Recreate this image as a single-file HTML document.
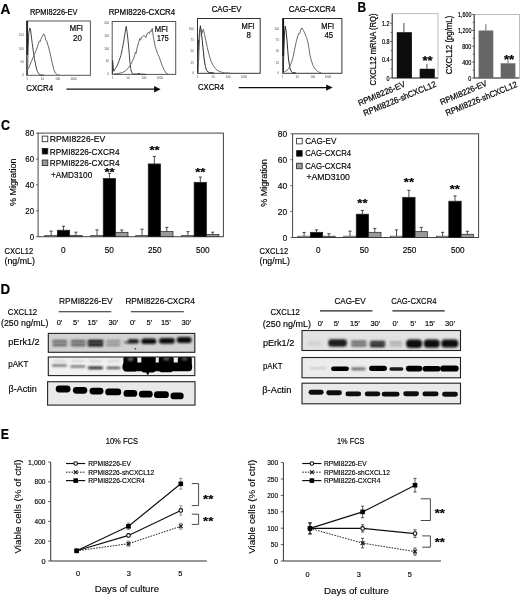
<!DOCTYPE html>
<html lang="en"><head><meta charset="utf-8"><title>Figure</title>
<style>
html,body{margin:0;padding:0;background:#fff;}
body{width:520px;height:598px;overflow:hidden;}
svg{display:block;font-family:"Liberation Sans",sans-serif;}
svg text{stroke:#000;stroke-width:0.22px;}
</style></head><body>
<svg width="520" height="598" viewBox="0 0 520 598">
<rect width="520" height="598" fill="#fff"/>
<filter id="soft" x="0" y="0" width="100%" height="100%" filterUnits="userSpaceOnUse"><feGaussianBlur stdDeviation="0.32"/></filter>
<g filter="url(#soft)">
<g id="panelA">
<text x="0.4" y="14.31" font-size="14.63" font-weight="bold" textLength="9.8" lengthAdjust="spacingAndGlyphs" fill="#000">A</text>
<text x="30" y="14.75" font-size="9.42" textLength="47.5" lengthAdjust="spacingAndGlyphs">RPMI8226-EV</text>
<text x="108.7" y="14.95" font-size="9.42" textLength="66.5" lengthAdjust="spacingAndGlyphs">RPMI8226-CXCR4</text>
<text x="211.7" y="12.45" font-size="9.42" textLength="29.8" lengthAdjust="spacingAndGlyphs">CAG-EV</text>
<text x="288.8" y="12.05" font-size="9.42" textLength="46.6" lengthAdjust="spacingAndGlyphs">CAG-CXCR4</text>
<rect x="26.50" y="21.00" width="63.90" height="54.30" fill="none" stroke="#555" stroke-width="1"/>
<rect x="112.20" y="21.50" width="63.50" height="52.90" fill="none" stroke="#555" stroke-width="1"/>
<rect x="197.50" y="18.50" width="62.70" height="54.80" fill="none" stroke="#333" stroke-width="1"/>
<rect x="282.70" y="18.50" width="59.20" height="54.80" fill="none" stroke="#333" stroke-width="1"/>
<text x="18.96" y="35.5" font-size="2.9" textLength="4.84" lengthAdjust="spacingAndGlyphs" fill="#444" style="stroke:none">150</text>
<text x="18.96" y="49.5" font-size="2.9" textLength="4.84" lengthAdjust="spacingAndGlyphs" fill="#444" style="stroke:none">100</text>
<text x="20.57" y="62.9" font-size="2.9" textLength="3.23" lengthAdjust="spacingAndGlyphs" fill="#444" style="stroke:none">50</text>
<text x="22.19" y="76.3" font-size="2.9" textLength="1.61" lengthAdjust="spacingAndGlyphs" fill="#444" style="stroke:none">0</text>
<text x="26.39" y="79.8" font-size="2.9" textLength="1.61" lengthAdjust="spacingAndGlyphs" fill="#444" style="stroke:none">1</text>
<text x="40.78" y="79.8" font-size="2.9" textLength="3.23" lengthAdjust="spacingAndGlyphs" fill="#444" style="stroke:none">10</text>
<text x="55.38" y="79.8" font-size="2.9" textLength="4.84" lengthAdjust="spacingAndGlyphs" fill="#444" style="stroke:none">100</text>
<text x="70.18" y="79.8" font-size="2.9" textLength="6.45" lengthAdjust="spacingAndGlyphs" fill="#444" style="stroke:none">1000</text>
<text x="104.16" y="23.9" font-size="2.9" textLength="4.84" lengthAdjust="spacingAndGlyphs" fill="#444" style="stroke:none">200</text>
<text x="104.16" y="36.9" font-size="2.9" textLength="4.84" lengthAdjust="spacingAndGlyphs" fill="#444" style="stroke:none">150</text>
<text x="104.16" y="49.9" font-size="2.9" textLength="4.84" lengthAdjust="spacingAndGlyphs" fill="#444" style="stroke:none">100</text>
<text x="105.77" y="62.4" font-size="2.9" textLength="3.23" lengthAdjust="spacingAndGlyphs" fill="#444" style="stroke:none">50</text>
<text x="107.39" y="75.4" font-size="2.9" textLength="1.61" lengthAdjust="spacingAndGlyphs" fill="#444" style="stroke:none">0</text>
<text x="111.69" y="79.2" font-size="2.9" textLength="1.61" lengthAdjust="spacingAndGlyphs" fill="#444" style="stroke:none">1</text>
<text x="126.39" y="79.2" font-size="2.9" textLength="3.23" lengthAdjust="spacingAndGlyphs" fill="#444" style="stroke:none">10</text>
<text x="141.58" y="79.2" font-size="2.9" textLength="4.84" lengthAdjust="spacingAndGlyphs" fill="#444" style="stroke:none">100</text>
<text x="156.58" y="79.2" font-size="2.9" textLength="6.45" lengthAdjust="spacingAndGlyphs" fill="#444" style="stroke:none">1000</text>
<text x="188.96" y="29.6" font-size="2.9" textLength="4.84" lengthAdjust="spacingAndGlyphs" fill="#444" style="stroke:none">100</text>
<text x="190.57" y="40.7" font-size="2.9" textLength="3.23" lengthAdjust="spacingAndGlyphs" fill="#444" style="stroke:none">75</text>
<text x="190.57" y="52.2" font-size="2.9" textLength="3.23" lengthAdjust="spacingAndGlyphs" fill="#444" style="stroke:none">50</text>
<text x="190.57" y="63.5" font-size="2.9" textLength="3.23" lengthAdjust="spacingAndGlyphs" fill="#444" style="stroke:none">25</text>
<text x="192.19" y="74.3" font-size="2.9" textLength="1.61" lengthAdjust="spacingAndGlyphs" fill="#444" style="stroke:none">0</text>
<text x="196.69" y="77.8" font-size="2.9" textLength="1.61" lengthAdjust="spacingAndGlyphs" fill="#444" style="stroke:none">1</text>
<text x="211.38" y="77.8" font-size="2.9" textLength="3.23" lengthAdjust="spacingAndGlyphs" fill="#444" style="stroke:none">10</text>
<text x="225.78" y="77.8" font-size="2.9" textLength="4.84" lengthAdjust="spacingAndGlyphs" fill="#444" style="stroke:none">100</text>
<text x="240.78" y="77.8" font-size="2.9" textLength="6.45" lengthAdjust="spacingAndGlyphs" fill="#444" style="stroke:none">1000</text>
<text x="274.16" y="30.0" font-size="2.9" textLength="4.84" lengthAdjust="spacingAndGlyphs" fill="#444" style="stroke:none">100</text>
<text x="275.77" y="41.1" font-size="2.9" textLength="3.23" lengthAdjust="spacingAndGlyphs" fill="#444" style="stroke:none">75</text>
<text x="275.77" y="52.2" font-size="2.9" textLength="3.23" lengthAdjust="spacingAndGlyphs" fill="#444" style="stroke:none">50</text>
<text x="275.77" y="63.5" font-size="2.9" textLength="3.23" lengthAdjust="spacingAndGlyphs" fill="#444" style="stroke:none">25</text>
<text x="277.39" y="74.3" font-size="2.9" textLength="1.61" lengthAdjust="spacingAndGlyphs" fill="#444" style="stroke:none">0</text>
<text x="281.89" y="77.7" font-size="2.9" textLength="1.61" lengthAdjust="spacingAndGlyphs" fill="#444" style="stroke:none">1</text>
<text x="295.78" y="77.7" font-size="2.9" textLength="3.23" lengthAdjust="spacingAndGlyphs" fill="#444" style="stroke:none">10</text>
<text x="310.28" y="77.7" font-size="2.9" textLength="4.84" lengthAdjust="spacingAndGlyphs" fill="#444" style="stroke:none">100</text>
<text x="324.77" y="77.7" font-size="2.9" textLength="6.45" lengthAdjust="spacingAndGlyphs" fill="#444" style="stroke:none">1000</text>
<line x1="27.3" y1="21" x2="27.3" y2="55" stroke="#222" stroke-width="1.5"/>
<polyline points="27.5,75.0 28.0,50.0 28.8,33.0 29.8,28.0 30.6,30.0 31.3,36.0 32.3,43.8 33.3,51.0 34.4,58.3 35.8,66.0 37.3,71.3 38.8,73.8 40.2,74.9 44.0,75.2" fill="none" stroke="#333" stroke-width="0.9" stroke-linejoin="round"/>
<polyline points="27.2,70.5 29.5,66.0 31.5,61.2 33.7,56.0 35.9,51.0 37.7,46.0 39.3,41.0 40.3,41.6 41.5,37.5 43.8,33.8 45.0,36.5 45.7,40.0 46.7,41.0 48.5,47.0 50.3,54.0 52.0,62.0 53.9,69.8 55.5,73.3 57.5,74.9 60.0,75.2" fill="none" stroke="#6a6a6a" stroke-width="1" stroke-linejoin="round"/>
<polyline points="112.5,74.0 112.6,60.4 113.1,66.0 113.7,71.3 115.5,68.5 117.3,65.5 119.2,60.5 120.9,55.4 122.4,48.5 123.8,41.0 125.0,33.0 126.2,26.3 127.2,33.0 128.1,41.0 129.0,51.0 129.8,61.2 130.7,68.5 131.7,72.7 133.8,74.2 137.0,74.0 139.0,73.4 141.0,74.2 146.0,74.3" fill="none" stroke="#333" stroke-width="0.9" stroke-linejoin="round"/>
<polyline points="113.7,74.0 118.0,73.5 122.3,72.7 125.5,70.8 128.1,68.4 130.3,65.2 132.4,61.2 134.2,57.0 135.4,52.0 136.0,53.5 137.3,47.0 138.9,41.7 139.8,38.5 140.5,40.2 141.5,37.0 142.6,36.8 144.0,35.2 145.0,36.8 146.1,37.4 147.0,34.0 148.3,32.3 149.3,33.6 150.3,30.8 151.3,31.6 152.3,28.3 152.8,33.0 153.3,36.6 154.3,42.0 155.5,48.2 156.5,50.0 157.3,53.5 159.1,56.8 160.9,62.0 162.7,66.9 164.5,70.6 166.3,73.4 168.5,74.3" fill="none" stroke="#6a6a6a" stroke-width="1" stroke-linejoin="round"/>
<line x1="198.4" y1="40" x2="198.4" y2="60" stroke="#333" stroke-width="1.6"/>
<polyline points="198.0,72.5 198.4,55.0 199.2,35.0 200.4,25.7 201.3,32.0 202.3,40.8 203.3,51.0 204.4,61.0 205.4,66.5 206.6,70.4 208.0,72.0 209.5,72.6 214.0,73.0" fill="none" stroke="#2a2a2a" stroke-width="1" stroke-linejoin="round"/>
<polyline points="198.2,64.0 199.0,45.0 200.0,32.0 201.0,29.5 202.0,33.0 203.3,29.0 204.5,34.5 205.9,40.8 207.3,47.5 208.8,53.8 210.2,58.5 211.6,62.5 213.4,65.8 215.2,68.3 217.0,70.0 218.8,71.1 221.5,72.2 224.6,72.9 230.0,73.1" fill="none" stroke="#6a6a6a" stroke-width="1" stroke-linejoin="round"/>
<line x1="283.3" y1="18.5" x2="283.3" y2="56" stroke="#111" stroke-width="1.6"/>
<polyline points="283.4,72.5 283.8,50.0 284.5,33.0 285.3,26.1 286.2,32.0 287.0,40.8 287.7,49.5 288.4,58.2 289.3,64.5 290.2,69.0 291.4,71.5 292.7,72.6 296.0,73.0" fill="none" stroke="#2a2a2a" stroke-width="1" stroke-linejoin="round"/>
<polyline points="283.4,72.6 286.0,71.0 288.4,69.0 290.2,65.5 292.0,61.0 293.5,55.0 294.9,48.0 296.3,41.5 297.8,35.8 298.8,33.2 299.7,33.6 300.7,30.0 301.8,27.9 303.3,30.2 305.0,33.6 306.5,37.5 307.9,42.3 309.0,48.5 310.0,55.3 311.5,61.0 313.0,65.4 315.0,68.8 317.3,71.1 319.5,72.4 321.6,73.0" fill="none" stroke="#6a6a6a" stroke-width="1" stroke-linejoin="round"/>
<text x="69.8" y="31.45" font-size="9.42" textLength="13.2" lengthAdjust="spacingAndGlyphs">MFI</text>
<text x="73.1" y="41.09" font-size="9.92" textLength="8.9" lengthAdjust="spacingAndGlyphs">20</text>
<text x="154.8" y="31.85" font-size="9.42" textLength="13.2" lengthAdjust="spacingAndGlyphs">MFI</text>
<text x="156.9" y="41.29" font-size="9.92" textLength="11.8" lengthAdjust="spacingAndGlyphs">175</text>
<text x="241.6" y="29.05" font-size="9.42" textLength="13" lengthAdjust="spacingAndGlyphs">MFI</text>
<text x="246.6" y="38.19" font-size="9.92" textLength="4.45" lengthAdjust="spacingAndGlyphs">8</text>
<text x="321.3" y="28.85" font-size="9.42" textLength="12.8" lengthAdjust="spacingAndGlyphs">MFI</text>
<text x="324.5" y="38.39" font-size="9.92" textLength="8.6" lengthAdjust="spacingAndGlyphs">45</text>
<text x="26.3" y="91.34" font-size="9.54" textLength="26.8" lengthAdjust="spacingAndGlyphs">CXCR4</text>
<text x="198" y="89.75" font-size="9.66" textLength="26" lengthAdjust="spacingAndGlyphs">CXCR4</text>
<line x1="66.5" y1="89.2" x2="156.6" y2="89.2" stroke="#111" stroke-width="1.3"/>
<polygon points="160.6,89.2 154.1,86.0 154.1,92.4" fill="#111"/>
<line x1="238.7" y1="87.6" x2="328.7" y2="87.6" stroke="#111" stroke-width="1.3"/>
<polygon points="332.7,87.6 326.2,84.39999999999999 326.2,90.8" fill="#111"/>
</g>
<g id="panelB">
<text x="357.5" y="11.73" font-size="14.88" font-weight="bold" textLength="8.6" lengthAdjust="spacingAndGlyphs" fill="#000">B</text>
<rect x="392.20" y="13.70" width="45.80" height="64.30" fill="none" stroke="#aaa" stroke-width="0.8"/>
<line x1="392.2" y1="13.7" x2="392.2" y2="78" stroke="#333" stroke-width="1"/>
<line x1="392.2" y1="78" x2="438" y2="78" stroke="#333" stroke-width="1"/>
<line x1="390.2" y1="78.0" x2="392.2" y2="78.0" stroke="#333" stroke-width="0.8"/>
<text x="386.56" y="80.7" font-size="7.6" textLength="3.04" lengthAdjust="spacingAndGlyphs">0</text>
<line x1="390.2" y1="59.76" x2="392.2" y2="59.76" stroke="#333" stroke-width="0.8"/>
<text x="381.99" y="62.46" font-size="7.6" textLength="7.61" lengthAdjust="spacingAndGlyphs">0.4</text>
<line x1="390.2" y1="41.519999999999996" x2="392.2" y2="41.519999999999996" stroke="#333" stroke-width="0.8"/>
<text x="381.99" y="44.22" font-size="7.6" textLength="7.61" lengthAdjust="spacingAndGlyphs">0.8</text>
<line x1="390.2" y1="23.28" x2="392.2" y2="23.28" stroke="#333" stroke-width="0.8"/>
<text x="381.99" y="25.98" font-size="7.6" textLength="7.61" lengthAdjust="spacingAndGlyphs">1.2</text>
<line x1="390.59999999999997" y1="68.88" x2="392.2" y2="68.88" stroke="#333" stroke-width="0.7"/>
<line x1="390.59999999999997" y1="50.64" x2="392.2" y2="50.64" stroke="#333" stroke-width="0.7"/>
<line x1="390.59999999999997" y1="32.4" x2="392.2" y2="32.4" stroke="#333" stroke-width="0.7"/>
<rect x="396.80" y="32.20" width="15.10" height="45.80" fill="#0a0a0a" stroke="none" stroke-width="1"/>
<line x1="403.9" y1="23.1" x2="403.9" y2="32.2" stroke="#333" stroke-width="0.9"/>
<rect x="419.70" y="68.80" width="15.10" height="9.20" fill="#0a0a0a" stroke="none" stroke-width="1"/>
<line x1="426.9" y1="63.9" x2="426.9" y2="68.8" stroke="#333" stroke-width="0.9"/>
<text x="422.5" y="64.5" font-size="13.02" font-weight="bold" textLength="10.2" lengthAdjust="spacingAndGlyphs" fill="#000">**</text>
<text x="375.6" y="85.73" font-size="8.51" textLength="72" lengthAdjust="spacingAndGlyphs" transform="rotate(-90 375.6 85.4)">CXCL12 mRNA (RQ)</text>
<text x="355.3" y="86.32" font-size="8.29" textLength="50.4" lengthAdjust="spacingAndGlyphs" transform="rotate(-23 405.7 86)">RPMI8226-EV</text>
<text x="358.7" y="86.32" font-size="8.58" textLength="78" lengthAdjust="spacingAndGlyphs" transform="rotate(-22.6 436.7 85.9)">RPMI8226-shCXCL12</text>
<rect x="474.20" y="14.50" width="45.20" height="63.50" fill="none" stroke="#aaa" stroke-width="0.8"/>
<line x1="474.2" y1="14.5" x2="474.2" y2="78" stroke="#333" stroke-width="1"/>
<line x1="474.2" y1="78" x2="519.4" y2="78" stroke="#333" stroke-width="1"/>
<line x1="472.2" y1="78.0" x2="474.2" y2="78.0" stroke="#333" stroke-width="0.8"/>
<text x="468.36" y="80.7" font-size="7.6" textLength="3.04" lengthAdjust="spacingAndGlyphs">0</text>
<line x1="472.2" y1="62.125" x2="474.2" y2="62.125" stroke="#333" stroke-width="0.8"/>
<text x="462.27" y="64.83" font-size="7.6" textLength="9.13" lengthAdjust="spacingAndGlyphs">400</text>
<line x1="472.2" y1="46.25" x2="474.2" y2="46.25" stroke="#333" stroke-width="0.8"/>
<text x="462.27" y="48.95" font-size="7.6" textLength="9.13" lengthAdjust="spacingAndGlyphs">800</text>
<line x1="472.2" y1="30.375" x2="474.2" y2="30.375" stroke="#333" stroke-width="0.8"/>
<text x="458.0" y="33.08" font-size="7.6" textLength="13.4" lengthAdjust="spacingAndGlyphs">1,200</text>
<line x1="472.2" y1="14.5" x2="474.2" y2="14.5" stroke="#333" stroke-width="0.8"/>
<text x="458.0" y="17.2" font-size="7.6" textLength="13.4" lengthAdjust="spacingAndGlyphs">1,600</text>
<line x1="472.59999999999997" y1="70.0625" x2="474.2" y2="70.0625" stroke="#333" stroke-width="0.7"/>
<line x1="472.59999999999997" y1="54.1875" x2="474.2" y2="54.1875" stroke="#333" stroke-width="0.7"/>
<line x1="472.59999999999997" y1="38.3125" x2="474.2" y2="38.3125" stroke="#333" stroke-width="0.7"/>
<line x1="472.59999999999997" y1="22.4375" x2="474.2" y2="22.4375" stroke="#333" stroke-width="0.7"/>
<rect x="478.60" y="30.50" width="14.70" height="47.50" fill="#666" stroke="none" stroke-width="1"/>
<line x1="485.9" y1="24.1" x2="485.9" y2="30.5" stroke="#555" stroke-width="0.9"/>
<rect x="500.70" y="63.30" width="14.70" height="14.70" fill="#666" stroke="none" stroke-width="1"/>
<line x1="508" y1="60.3" x2="508" y2="63.3" stroke="#555" stroke-width="0.9"/>
<text x="503.9" y="63.5" font-size="13.02" font-weight="bold" textLength="10.2" lengthAdjust="spacingAndGlyphs" fill="#000">**</text>
<text x="451.4" y="74.63" font-size="8.51" textLength="58.6" lengthAdjust="spacingAndGlyphs" transform="rotate(-90 451.4 74.3)">CXCL12 (pg/mL)</text>
<text x="437.3" y="85.52" font-size="8.29" textLength="50.2" lengthAdjust="spacingAndGlyphs" transform="rotate(-23 487.5 85.2)">RPMI8226-EV</text>
<text x="440.9" y="86.52" font-size="8.58" textLength="77" lengthAdjust="spacingAndGlyphs" transform="rotate(-22.6 517.9 86.1)">RPMI8226-shCXCL12</text>
</g>
<g id="panelC">
<text x="1.0" y="130.41" font-size="14.63" font-weight="bold" textLength="9" lengthAdjust="spacingAndGlyphs" fill="#000">C</text>
<rect x="38.10" y="133.10" width="185.30" height="103.60" fill="none" stroke="#444" stroke-width="1"/>
<line x1="35.9" y1="236.7" x2="38.1" y2="236.7" stroke="#444" stroke-width="0.8"/>
<text x="29.76" y="239.98" font-size="9.13" textLength="4.34" lengthAdjust="spacingAndGlyphs" style="stroke-width:0.16px">0</text>
<line x1="35.9" y1="210.79999999999998" x2="38.1" y2="210.79999999999998" stroke="#444" stroke-width="0.8"/>
<text x="25.3" y="214.08" font-size="9.13" textLength="8.8" lengthAdjust="spacingAndGlyphs" style="stroke-width:0.16px">20</text>
<line x1="35.9" y1="184.89999999999998" x2="38.1" y2="184.89999999999998" stroke="#444" stroke-width="0.8"/>
<text x="25.3" y="188.18" font-size="9.13" textLength="8.8" lengthAdjust="spacingAndGlyphs" style="stroke-width:0.16px">40</text>
<line x1="35.9" y1="159.0" x2="38.1" y2="159.0" stroke="#444" stroke-width="0.8"/>
<text x="25.3" y="162.28" font-size="9.13" textLength="8.8" lengthAdjust="spacingAndGlyphs" style="stroke-width:0.16px">60</text>
<line x1="35.9" y1="133.1" x2="38.1" y2="133.1" stroke="#444" stroke-width="0.8"/>
<text x="25.3" y="136.38" font-size="9.13" textLength="8.8" lengthAdjust="spacingAndGlyphs" style="stroke-width:0.16px">80</text>
<rect x="44.90" y="235.41" width="12.40" height="1.29" fill="#fff" stroke="#222" stroke-width="0.7"/>
<line x1="51.1" y1="235.405" x2="51.1" y2="231.1315" stroke="#222" stroke-width="0.8"/>
<line x1="49.5" y1="231.1315" x2="52.7" y2="231.1315" stroke="#222" stroke-width="0.8"/>
<rect x="57.30" y="230.22" width="12.40" height="6.47" fill="#000" stroke="#222" stroke-width="0.7"/>
<line x1="63.5" y1="230.225" x2="63.5" y2="226.2105" stroke="#222" stroke-width="0.8"/>
<line x1="61.9" y1="226.2105" x2="65.1" y2="226.2105" stroke="#222" stroke-width="0.8"/>
<rect x="69.70" y="235.41" width="12.40" height="1.29" fill="#999" stroke="#222" stroke-width="0.7"/>
<line x1="75.9" y1="235.405" x2="75.9" y2="232.1675" stroke="#222" stroke-width="0.8"/>
<line x1="74.30000000000001" y1="232.1675" x2="77.5" y2="232.1675" stroke="#222" stroke-width="0.8"/>
<rect x="90.80" y="235.41" width="12.40" height="1.29" fill="#fff" stroke="#222" stroke-width="0.7"/>
<line x1="97.00000000000001" y1="235.405" x2="97.00000000000001" y2="229.8365" stroke="#222" stroke-width="0.8"/>
<line x1="95.40000000000002" y1="229.8365" x2="98.60000000000001" y2="229.8365" stroke="#222" stroke-width="0.8"/>
<rect x="103.20" y="178.42" width="12.40" height="58.28" fill="#000" stroke="#222" stroke-width="0.7"/>
<line x1="109.40000000000002" y1="178.42499999999998" x2="109.40000000000002" y2="173.37449999999998" stroke="#222" stroke-width="0.8"/>
<line x1="107.80000000000003" y1="173.37449999999998" x2="111.00000000000001" y2="173.37449999999998" stroke="#222" stroke-width="0.8"/>
<rect x="115.60" y="232.30" width="12.40" height="4.40" fill="#999" stroke="#222" stroke-width="0.7"/>
<line x1="121.80000000000001" y1="232.297" x2="121.80000000000001" y2="229.96599999999998" stroke="#222" stroke-width="0.8"/>
<line x1="120.20000000000002" y1="229.96599999999998" x2="123.4" y2="229.96599999999998" stroke="#222" stroke-width="0.8"/>
<rect x="135.80" y="235.41" width="12.40" height="1.29" fill="#fff" stroke="#222" stroke-width="0.7"/>
<line x1="142.0" y1="235.405" x2="142.0" y2="229.189" stroke="#222" stroke-width="0.8"/>
<line x1="140.4" y1="229.189" x2="143.6" y2="229.189" stroke="#222" stroke-width="0.8"/>
<rect x="148.20" y="163.92" width="12.40" height="72.78" fill="#000" stroke="#222" stroke-width="0.7"/>
<line x1="154.4" y1="163.921" x2="154.4" y2="156.41" stroke="#222" stroke-width="0.8"/>
<line x1="152.8" y1="156.41" x2="156.0" y2="156.41" stroke="#222" stroke-width="0.8"/>
<rect x="160.60" y="231.65" width="12.40" height="5.05" fill="#999" stroke="#222" stroke-width="0.7"/>
<line x1="166.8" y1="231.6495" x2="166.8" y2="227.37599999999998" stroke="#222" stroke-width="0.8"/>
<line x1="165.20000000000002" y1="227.37599999999998" x2="168.4" y2="227.37599999999998" stroke="#222" stroke-width="0.8"/>
<rect x="181.70" y="235.41" width="12.40" height="1.29" fill="#fff" stroke="#222" stroke-width="0.7"/>
<line x1="187.9" y1="235.405" x2="187.9" y2="231.6495" stroke="#222" stroke-width="0.8"/>
<line x1="186.3" y1="231.6495" x2="189.5" y2="231.6495" stroke="#222" stroke-width="0.8"/>
<rect x="194.10" y="182.31" width="12.40" height="54.39" fill="#000" stroke="#222" stroke-width="0.7"/>
<line x1="200.3" y1="182.31" x2="200.3" y2="177.0005" stroke="#222" stroke-width="0.8"/>
<line x1="198.70000000000002" y1="177.0005" x2="201.9" y2="177.0005" stroke="#222" stroke-width="0.8"/>
<rect x="206.50" y="234.37" width="12.40" height="2.33" fill="#999" stroke="#222" stroke-width="0.7"/>
<line x1="212.70000000000002" y1="234.369" x2="212.70000000000002" y2="232.1675" stroke="#222" stroke-width="0.8"/>
<line x1="211.10000000000002" y1="232.1675" x2="214.3" y2="232.1675" stroke="#222" stroke-width="0.8"/>
<text x="104.5" y="175.7" font-size="11.0" font-weight="bold" textLength="10.2" lengthAdjust="spacingAndGlyphs" fill="#000">**</text>
<text x="149.5" y="153.7" font-size="11.0" font-weight="bold" textLength="10.2" lengthAdjust="spacingAndGlyphs" fill="#000">**</text>
<text x="195.2" y="175.7" font-size="11.0" font-weight="bold" textLength="10.2" lengthAdjust="spacingAndGlyphs" fill="#000">**</text>
<rect x="42.20" y="136.10" width="5.60" height="5.60" fill="#fff" stroke="#222" stroke-width="0.8"/>
<text x="49.8" y="142.36" font-size="8.89" textLength="55.4" lengthAdjust="spacingAndGlyphs" style="stroke-width:0.16px">RPMI8226-EV</text>
<rect x="42.20" y="148.40" width="5.60" height="5.60" fill="#000" stroke="#222" stroke-width="0.8"/>
<text x="49.8" y="154.66" font-size="8.89" textLength="69.8" lengthAdjust="spacingAndGlyphs" style="stroke-width:0.16px">RPMI8226-CXCR4</text>
<rect x="42.20" y="160.00" width="5.60" height="5.60" fill="#999" stroke="#222" stroke-width="0.8"/>
<text x="49.8" y="166.26" font-size="8.89" textLength="69.8" lengthAdjust="spacingAndGlyphs" style="stroke-width:0.16px">RPMI8226-CXCR4</text>
<text x="60.92" y="253.18" font-size="9.13" textLength="4.56" lengthAdjust="spacingAndGlyphs" style="stroke-width:0.16px">0</text>
<text x="104.65" y="253.18" font-size="9.13" textLength="9.11" lengthAdjust="spacingAndGlyphs" style="stroke-width:0.16px">50</text>
<text x="147.97" y="253.18" font-size="9.13" textLength="13.67" lengthAdjust="spacingAndGlyphs" style="stroke-width:0.16px">250</text>
<text x="195.97" y="253.18" font-size="9.13" textLength="13.67" lengthAdjust="spacingAndGlyphs" style="stroke-width:0.16px">500</text>
<text x="4.5" y="253.68" font-size="9.13" textLength="28.6" lengthAdjust="spacingAndGlyphs" style="stroke-width:0.16px">CXCL12</text>
<text x="4.5" y="263.68" font-size="9.13" textLength="30.5" lengthAdjust="spacingAndGlyphs" style="stroke-width:0.16px">(ng/mL)</text>
<text x="-8.2" y="182.78" font-size="9.13" textLength="47.6" lengthAdjust="spacingAndGlyphs" transform="rotate(-90 15.6 182.29999999999998)" style="stroke-width:0.16px">% Migration</text>
<text x="51" y="177.86" font-size="8.89" textLength="41.2" lengthAdjust="spacingAndGlyphs" style="stroke-width:0.16px">+AMD3100</text>
<rect x="292.60" y="133.80" width="186.00" height="103.70" fill="none" stroke="#444" stroke-width="1"/>
<line x1="290.40000000000003" y1="237.5" x2="292.6" y2="237.5" stroke="#444" stroke-width="0.8"/>
<text x="282.86" y="240.78" font-size="9.13" textLength="4.34" lengthAdjust="spacingAndGlyphs" style="stroke-width:0.16px">0</text>
<line x1="290.40000000000003" y1="211.575" x2="292.6" y2="211.575" stroke="#444" stroke-width="0.8"/>
<text x="277.8" y="214.85" font-size="9.13" textLength="9.4" lengthAdjust="spacingAndGlyphs" style="stroke-width:0.16px">20</text>
<line x1="290.40000000000003" y1="185.65" x2="292.6" y2="185.65" stroke="#444" stroke-width="0.8"/>
<text x="277.8" y="188.93" font-size="9.13" textLength="9.4" lengthAdjust="spacingAndGlyphs" style="stroke-width:0.16px">40</text>
<line x1="290.40000000000003" y1="159.72500000000002" x2="292.6" y2="159.72500000000002" stroke="#444" stroke-width="0.8"/>
<text x="277.8" y="163.0" font-size="9.13" textLength="9.4" lengthAdjust="spacingAndGlyphs" style="stroke-width:0.16px">60</text>
<line x1="290.40000000000003" y1="133.8" x2="292.6" y2="133.8" stroke="#444" stroke-width="0.8"/>
<text x="277.8" y="137.08" font-size="9.13" textLength="9.4" lengthAdjust="spacingAndGlyphs" style="stroke-width:0.16px">80</text>
<rect x="297.90" y="236.20" width="12.40" height="1.30" fill="#fff" stroke="#222" stroke-width="0.7"/>
<line x1="304.09999999999997" y1="236.20375" x2="304.09999999999997" y2="232.444625" stroke="#222" stroke-width="0.8"/>
<line x1="302.49999999999994" y1="232.444625" x2="305.7" y2="232.444625" stroke="#222" stroke-width="0.8"/>
<rect x="310.30" y="232.31" width="12.40" height="5.19" fill="#000" stroke="#222" stroke-width="0.7"/>
<line x1="316.49999999999994" y1="232.315" x2="316.49999999999994" y2="229.852125" stroke="#222" stroke-width="0.8"/>
<line x1="314.8999999999999" y1="229.852125" x2="318.09999999999997" y2="229.852125" stroke="#222" stroke-width="0.8"/>
<rect x="322.70" y="236.20" width="12.40" height="1.30" fill="#999" stroke="#222" stroke-width="0.7"/>
<line x1="328.9" y1="236.20375" x2="328.9" y2="233.61125" stroke="#222" stroke-width="0.8"/>
<line x1="327.29999999999995" y1="233.61125" x2="330.5" y2="233.61125" stroke="#222" stroke-width="0.8"/>
<rect x="343.80" y="236.20" width="12.40" height="1.30" fill="#fff" stroke="#222" stroke-width="0.7"/>
<line x1="349.99999999999994" y1="236.20375" x2="349.99999999999994" y2="231.148375" stroke="#222" stroke-width="0.8"/>
<line x1="348.3999999999999" y1="231.148375" x2="351.59999999999997" y2="231.148375" stroke="#222" stroke-width="0.8"/>
<rect x="356.20" y="214.17" width="12.40" height="23.33" fill="#000" stroke="#222" stroke-width="0.7"/>
<line x1="362.3999999999999" y1="214.1675" x2="362.3999999999999" y2="210.408375" stroke="#222" stroke-width="0.8"/>
<line x1="360.7999999999999" y1="210.408375" x2="363.99999999999994" y2="210.408375" stroke="#222" stroke-width="0.8"/>
<rect x="368.60" y="232.31" width="12.40" height="5.19" fill="#999" stroke="#222" stroke-width="0.7"/>
<line x1="374.79999999999995" y1="232.315" x2="374.79999999999995" y2="228.42625" stroke="#222" stroke-width="0.8"/>
<line x1="373.19999999999993" y1="228.42625" x2="376.4" y2="228.42625" stroke="#222" stroke-width="0.8"/>
<rect x="390.30" y="236.20" width="12.40" height="1.30" fill="#fff" stroke="#222" stroke-width="0.7"/>
<line x1="396.49999999999994" y1="236.20375" x2="396.49999999999994" y2="229.852125" stroke="#222" stroke-width="0.8"/>
<line x1="394.8999999999999" y1="229.852125" x2="398.09999999999997" y2="229.852125" stroke="#222" stroke-width="0.8"/>
<rect x="402.70" y="197.32" width="12.40" height="40.18" fill="#000" stroke="#222" stroke-width="0.7"/>
<line x1="408.8999999999999" y1="197.31625" x2="408.8999999999999" y2="190.31650000000002" stroke="#222" stroke-width="0.8"/>
<line x1="407.2999999999999" y1="190.31650000000002" x2="410.49999999999994" y2="190.31650000000002" stroke="#222" stroke-width="0.8"/>
<rect x="415.10" y="231.67" width="12.40" height="5.83" fill="#999" stroke="#222" stroke-width="0.7"/>
<line x1="421.29999999999995" y1="231.666875" x2="421.29999999999995" y2="227.38925" stroke="#222" stroke-width="0.8"/>
<line x1="419.69999999999993" y1="227.38925" x2="422.9" y2="227.38925" stroke="#222" stroke-width="0.8"/>
<rect x="436.40" y="236.20" width="12.40" height="1.30" fill="#fff" stroke="#222" stroke-width="0.7"/>
<line x1="442.59999999999997" y1="236.20375" x2="442.59999999999997" y2="232.315" stroke="#222" stroke-width="0.8"/>
<line x1="440.99999999999994" y1="232.315" x2="444.2" y2="232.315" stroke="#222" stroke-width="0.8"/>
<rect x="448.80" y="201.21" width="12.40" height="36.29" fill="#000" stroke="#222" stroke-width="0.7"/>
<line x1="454.99999999999994" y1="201.205" x2="454.99999999999994" y2="195.890375" stroke="#222" stroke-width="0.8"/>
<line x1="453.3999999999999" y1="195.890375" x2="456.59999999999997" y2="195.890375" stroke="#222" stroke-width="0.8"/>
<rect x="461.20" y="234.26" width="12.40" height="3.24" fill="#999" stroke="#222" stroke-width="0.7"/>
<line x1="467.4" y1="234.259375" x2="467.4" y2="231.278" stroke="#222" stroke-width="0.8"/>
<line x1="465.79999999999995" y1="231.278" x2="469.0" y2="231.278" stroke="#222" stroke-width="0.8"/>
<text x="357.3" y="207.3" font-size="11.0" font-weight="bold" textLength="10.2" lengthAdjust="spacingAndGlyphs" fill="#000">**</text>
<text x="403.8" y="185.5" font-size="11.0" font-weight="bold" textLength="10.2" lengthAdjust="spacingAndGlyphs" fill="#000">**</text>
<text x="449.7" y="193.1" font-size="11.0" font-weight="bold" textLength="10.2" lengthAdjust="spacingAndGlyphs" fill="#000">**</text>
<rect x="296.60" y="138.30" width="5.60" height="5.60" fill="#fff" stroke="#222" stroke-width="0.8"/>
<text x="305.2" y="143.86" font-size="8.89" textLength="31.2" lengthAdjust="spacingAndGlyphs" style="stroke-width:0.16px">CAG-EV</text>
<rect x="296.60" y="150.60" width="5.60" height="5.60" fill="#000" stroke="#222" stroke-width="0.8"/>
<text x="305.2" y="156.16" font-size="8.89" textLength="46" lengthAdjust="spacingAndGlyphs" style="stroke-width:0.16px">CAG-CXCR4</text>
<rect x="296.60" y="163.20" width="5.60" height="5.60" fill="#999" stroke="#222" stroke-width="0.8"/>
<text x="305.2" y="168.76" font-size="8.89" textLength="46" lengthAdjust="spacingAndGlyphs" style="stroke-width:0.16px">CAG-CXCR4</text>
<text x="315.92" y="253.18" font-size="9.13" textLength="4.56" lengthAdjust="spacingAndGlyphs" style="stroke-width:0.16px">0</text>
<text x="359.64" y="253.18" font-size="9.13" textLength="9.11" lengthAdjust="spacingAndGlyphs" style="stroke-width:0.16px">50</text>
<text x="402.77" y="253.18" font-size="9.13" textLength="13.67" lengthAdjust="spacingAndGlyphs" style="stroke-width:0.16px">250</text>
<text x="450.97" y="253.18" font-size="9.13" textLength="13.67" lengthAdjust="spacingAndGlyphs" style="stroke-width:0.16px">500</text>
<text x="259.5" y="253.68" font-size="9.13" textLength="28.6" lengthAdjust="spacingAndGlyphs" style="stroke-width:0.16px">CXCL12</text>
<text x="259.5" y="263.68" font-size="9.13" textLength="30.5" lengthAdjust="spacingAndGlyphs" style="stroke-width:0.16px">(ng/mL)</text>
<text x="243.0" y="183.53" font-size="9.13" textLength="47.6" lengthAdjust="spacingAndGlyphs" transform="rotate(-90 266.8 183.05)" style="stroke-width:0.16px">% Migration</text>
<text x="306.4" y="180.16" font-size="8.89" textLength="43.5" lengthAdjust="spacingAndGlyphs" style="stroke-width:0.16px">+AMD3100</text>
</g>
<g id="panelD">
<defs>
<filter id="b1" x="-30%" y="-80%" width="160%" height="260%"><feGaussianBlur stdDeviation="0.9"/></filter>
<filter id="b2" x="-30%" y="-80%" width="160%" height="260%"><feGaussianBlur stdDeviation="0.6"/></filter>
<filter id="b4" x="-30%" y="-80%" width="160%" height="260%"><feGaussianBlur stdDeviation="0.75"/></filter>
<filter id="b3" x="-30%" y="-80%" width="160%" height="260%"><feGaussianBlur stdDeviation="1.4"/></filter>
</defs>
<text x="0.4" y="294.21" font-size="14.63" font-weight="bold" textLength="9.6" lengthAdjust="spacingAndGlyphs" fill="#000">D</text>
<text x="59" y="304.36" font-size="8.89" textLength="53.6" lengthAdjust="spacingAndGlyphs" style="stroke-width:0.16px">RPMI8226-EV</text>
<text x="125.4" y="304.36" font-size="8.89" textLength="69.4" lengthAdjust="spacingAndGlyphs" style="stroke-width:0.16px">RPMI8226-CXCR4</text>
<line x1="58.6" y1="311.8" x2="111.3" y2="311.8" stroke="#222" stroke-width="1.1"/>
<line x1="130.9" y1="311.8" x2="183.8" y2="311.8" stroke="#222" stroke-width="1.1"/>
<text x="7.8" y="314.58" font-size="9.13" textLength="29.4" lengthAdjust="spacingAndGlyphs" style="stroke-width:0.16px">CXCL12</text>
<text x="1" y="326.08" font-size="9.13" textLength="47.4" lengthAdjust="spacingAndGlyphs" style="stroke-width:0.16px">(250 ng/mL)</text>
<text x="56.68" y="325.31" font-size="7.8" textLength="5.84" lengthAdjust="spacingAndGlyphs" style="stroke-width:0.16px">0’</text>
<text x="73.08" y="325.31" font-size="7.8" textLength="5.84" lengthAdjust="spacingAndGlyphs" style="stroke-width:0.16px">5’</text>
<text x="87.59" y="325.31" font-size="7.8" textLength="10.01" lengthAdjust="spacingAndGlyphs" style="stroke-width:0.16px">15’</text>
<text x="108.4" y="325.31" font-size="7.8" textLength="10.01" lengthAdjust="spacingAndGlyphs" style="stroke-width:0.16px">30’</text>
<text x="129.88" y="325.31" font-size="7.8" textLength="5.84" lengthAdjust="spacingAndGlyphs" style="stroke-width:0.16px">0’</text>
<text x="146.58" y="325.31" font-size="7.8" textLength="5.84" lengthAdjust="spacingAndGlyphs" style="stroke-width:0.16px">5’</text>
<text x="160.9" y="325.31" font-size="7.8" textLength="10.01" lengthAdjust="spacingAndGlyphs" style="stroke-width:0.16px">15’</text>
<text x="181.4" y="325.31" font-size="7.8" textLength="10.01" lengthAdjust="spacingAndGlyphs" style="stroke-width:0.16px">30’</text>
<text x="8.3" y="344.78" font-size="9.13" textLength="31.3" lengthAdjust="spacingAndGlyphs" style="stroke-width:0.16px">pErk1/2</text>
<text x="8.3" y="366.98" font-size="9.13" textLength="20" lengthAdjust="spacingAndGlyphs" style="stroke-width:0.16px">pAKT</text>
<text x="8.5" y="391.78" font-size="9.13" textLength="28.2" lengthAdjust="spacingAndGlyphs" style="stroke-width:0.16px">β-Actin</text>
<clipPath id="cl1"><rect x="48.3" y="333.4" width="146.5" height="18.9"/></clipPath>
<clipPath id="cl2"><rect x="48.3" y="357" width="146.5" height="18.6"/></clipPath>
<clipPath id="cl3"><rect x="47.6" y="381.7" width="147.4" height="23.4"/></clipPath>
<rect x="48.30" y="333.40" width="146.50" height="18.90" fill="#d2d2d2" stroke="none" stroke-width="1"/>
<g clip-path="url(#cl1)">
<rect x="52.05" y="339.90" width="15.50" height="6.40" rx="2.00" fill="#b8b8b8" opacity="1" filter="url(#b3)"/>
<rect x="52.55" y="340.05" width="14.50" height="2.50" rx="1.25" fill="#6c6c6c" opacity="1" filter="url(#b1)"/>
<rect x="52.55" y="343.55" width="14.50" height="2.70" rx="1.35" fill="#6c6c6c" opacity="1" filter="url(#b1)"/>
<rect x="70.45" y="339.90" width="15.50" height="6.40" rx="2.00" fill="#b4b4b4" opacity="1" filter="url(#b3)"/>
<rect x="70.95" y="340.05" width="14.50" height="2.50" rx="1.25" fill="#646464" opacity="1" filter="url(#b1)"/>
<rect x="70.95" y="343.55" width="14.50" height="2.70" rx="1.35" fill="#646464" opacity="1" filter="url(#b1)"/>
<rect x="87.30" y="339.90" width="16.40" height="6.40" rx="2.00" fill="#868686" opacity="1" filter="url(#b3)"/>
<rect x="87.80" y="340.05" width="15.40" height="2.50" rx="1.25" fill="#181818" opacity="1" filter="url(#b1)"/>
<rect x="87.80" y="343.55" width="15.40" height="2.70" rx="1.35" fill="#181818" opacity="1" filter="url(#b1)"/>
<rect x="105.70" y="339.90" width="15.00" height="6.40" rx="2.00" fill="#c4c4c4" opacity="1" filter="url(#b3)"/>
<rect x="106.20" y="340.05" width="14.00" height="2.50" rx="1.25" fill="#929292" opacity="1" filter="url(#b1)"/>
<rect x="106.20" y="343.55" width="14.00" height="2.70" rx="1.35" fill="#929292" opacity="1" filter="url(#b1)"/>
<rect x="127.60" y="339.30" width="11.40" height="4.20" rx="2.10" fill="#161616" opacity="1" filter="url(#b1)"/>
<rect x="124.00" y="341.50" width="6.00" height="1.80" rx="0.90" fill="#4a4a4a" opacity="1" filter="url(#b1)"/>
<rect x="141.30" y="338.40" width="15.00" height="5.60" rx="2.80" fill="#0c0c0c" opacity="1" filter="url(#b1)"/>
<rect x="159.00" y="337.90" width="15.80" height="5.80" rx="2.90" fill="#0c0c0c" opacity="1" filter="url(#b1)"/>
<rect x="176.70" y="337.00" width="15.00" height="6.00" rx="3.00" fill="#0c0c0c" opacity="1" filter="url(#b1)"/>
<rect x="134.60" y="348.00" width="1.60" height="1.60" rx="0.80" fill="#222" opacity="1" filter="url(#b2)"/>
</g>
<rect x="48.30" y="333.40" width="146.50" height="18.90" fill="none" stroke="#222" stroke-width="1.1"/>
<rect x="48.30" y="357.00" width="146.50" height="18.60" fill="#f1f1f1" stroke="none" stroke-width="1"/>
<g clip-path="url(#cl2)">
<rect x="52.00" y="364.50" width="15.00" height="2.00" rx="1.00" fill="#5c5c5c" opacity="1" filter="url(#b1)"/>
<rect x="70.30" y="365.60" width="15.00" height="2.00" rx="1.00" fill="#5c5c5c" opacity="1" filter="url(#b1)"/>
<rect x="87.90" y="366.45" width="15.20" height="2.70" rx="1.35" fill="#222" opacity="1" filter="url(#b1)"/>
<rect x="106.50" y="366.70" width="14.00" height="2.20" rx="1.10" fill="#4c4c4c" opacity="1" filter="url(#b1)"/>
<rect x="53.00" y="360.00" width="13.00" height="2.00" rx="1.00" fill="#d2d2d2" opacity="1" filter="url(#b1)"/>
<rect x="71.30" y="360.00" width="13.00" height="2.00" rx="1.00" fill="#d2d2d2" opacity="1" filter="url(#b1)"/>
<rect x="89.00" y="360.00" width="13.00" height="2.00" rx="1.00" fill="#d2d2d2" opacity="1" filter="url(#b1)"/>
<rect x="107.00" y="360.00" width="13.00" height="2.00" rx="1.00" fill="#d2d2d2" opacity="1" filter="url(#b1)"/>
<rect x="122.50" y="362.60" width="69.60" height="8.60" rx="3.60" fill="#000" opacity="1" filter="url(#b4)"/>
<rect x="123.40" y="356.80" width="14.00" height="11.60" rx="2.00" fill="#060606" opacity="1" filter="url(#b4)"/>
<rect x="141.30" y="356.30" width="14.40" height="12.60" rx="2.00" fill="#000" opacity="1" filter="url(#b4)"/>
<rect x="158.70" y="356.80" width="15.00" height="11.60" rx="2.00" fill="#060606" opacity="1" filter="url(#b4)"/>
<rect x="177.80" y="356.80" width="14.00" height="11.60" rx="2.00" fill="#060606" opacity="1" filter="url(#b4)"/>
<rect x="127.80" y="357.00" width="5.60" height="4.00" rx="2.00" fill="#6e6e6e" opacity="1" filter="url(#b1)"/>
<rect x="163.20" y="357.00" width="6.40" height="3.60" rx="2.00" fill="#5e5e5e" opacity="1" filter="url(#b1)"/>
<rect x="181.70" y="357.10" width="5.80" height="3.40" rx="2.00" fill="#525252" opacity="1" filter="url(#b1)"/>
<rect x="146.40" y="368.40" width="2.60" height="6.40" rx="3.20" fill="#000" opacity="1" filter="url(#b2)"/>
<rect x="123.60" y="367.10" width="13.60" height="4.40" rx="2.20" fill="#000" opacity="1" filter="url(#b4)"/>
<rect x="141.70" y="368.00" width="13.60" height="4.40" rx="2.20" fill="#000" opacity="1" filter="url(#b4)"/>
<rect x="159.20" y="367.80" width="13.60" height="4.40" rx="2.20" fill="#000" opacity="1" filter="url(#b4)"/>
<rect x="177.80" y="366.60" width="13.60" height="4.40" rx="2.20" fill="#000" opacity="1" filter="url(#b4)"/>
</g>
<rect x="48.30" y="357.00" width="146.50" height="18.60" fill="none" stroke="#222" stroke-width="1.1"/>
<rect x="47.60" y="381.70" width="147.40" height="23.40" fill="#e9e9e9" stroke="none" stroke-width="1"/>
<g clip-path="url(#cl3)">
<rect x="55.70" y="385.60" width="14.80" height="6.80" rx="3.40" fill="#050505" opacity="1" filter="url(#b4)"/>
<rect x="72.90" y="386.90" width="14.40" height="6.80" rx="3.40" fill="#050505" opacity="1" filter="url(#b4)"/>
<rect x="89.50" y="387.70" width="14.00" height="6.80" rx="3.40" fill="#050505" opacity="1" filter="url(#b4)"/>
<rect x="105.20" y="388.50" width="16.00" height="6.80" rx="3.40" fill="#050505" opacity="1" filter="url(#b4)"/>
<rect x="123.50" y="390.00" width="13.80" height="6.80" rx="3.40" fill="#050505" opacity="1" filter="url(#b4)"/>
<rect x="138.90" y="390.80" width="13.80" height="6.80" rx="3.40" fill="#050505" opacity="1" filter="url(#b4)"/>
<rect x="153.90" y="391.30" width="15.00" height="6.80" rx="3.40" fill="#050505" opacity="1" filter="url(#b4)"/>
<rect x="170.50" y="392.50" width="13.20" height="6.80" rx="3.40" fill="#050505" opacity="1" filter="url(#b4)"/>
</g>
<rect x="47.60" y="381.70" width="147.40" height="23.40" fill="none" stroke="#222" stroke-width="1.1"/>
<text x="334.4" y="303.86" font-size="8.89" textLength="31.2" lengthAdjust="spacingAndGlyphs" style="stroke-width:0.16px">CAG-EV</text>
<text x="391.2" y="303.86" font-size="8.89" textLength="45.3" lengthAdjust="spacingAndGlyphs" style="stroke-width:0.16px">CAG-CXCR4</text>
<line x1="320" y1="310.9" x2="372.4" y2="310.9" stroke="#222" stroke-width="1.1"/>
<line x1="392.4" y1="310.9" x2="444.7" y2="310.9" stroke="#222" stroke-width="1.1"/>
<text x="270.5" y="315.28" font-size="9.13" textLength="29.4" lengthAdjust="spacingAndGlyphs" style="stroke-width:0.16px">CXCL12</text>
<text x="262.7" y="327.28" font-size="9.13" textLength="48.3" lengthAdjust="spacingAndGlyphs" style="stroke-width:0.16px">(250 ng/mL)</text>
<text x="317.68" y="325.71" font-size="7.8" textLength="5.84" lengthAdjust="spacingAndGlyphs" style="stroke-width:0.16px">0’</text>
<text x="333.68" y="325.71" font-size="7.8" textLength="5.84" lengthAdjust="spacingAndGlyphs" style="stroke-width:0.16px">5’</text>
<text x="350.0" y="325.71" font-size="7.8" textLength="10.01" lengthAdjust="spacingAndGlyphs" style="stroke-width:0.16px">15’</text>
<text x="370.39" y="325.71" font-size="7.8" textLength="10.01" lengthAdjust="spacingAndGlyphs" style="stroke-width:0.16px">30’</text>
<text x="392.48" y="325.71" font-size="7.8" textLength="5.84" lengthAdjust="spacingAndGlyphs" style="stroke-width:0.16px">0’</text>
<text x="410.28" y="325.71" font-size="7.8" textLength="5.84" lengthAdjust="spacingAndGlyphs" style="stroke-width:0.16px">5’</text>
<text x="425.0" y="325.71" font-size="7.8" textLength="10.01" lengthAdjust="spacingAndGlyphs" style="stroke-width:0.16px">15’</text>
<text x="445.1" y="325.71" font-size="7.8" textLength="10.01" lengthAdjust="spacingAndGlyphs" style="stroke-width:0.16px">30’</text>
<text x="263" y="345.68" font-size="9.13" textLength="31.2" lengthAdjust="spacingAndGlyphs" style="stroke-width:0.16px">pErk1/2</text>
<text x="263" y="368.68" font-size="9.13" textLength="19.5" lengthAdjust="spacingAndGlyphs" style="stroke-width:0.16px">pAKT</text>
<text x="262.3" y="392.88" font-size="9.13" textLength="29" lengthAdjust="spacingAndGlyphs" style="stroke-width:0.16px">β-Actin</text>
<clipPath id="cr1"><rect x="302" y="330.5" width="158.5" height="20"/></clipPath>
<clipPath id="cr2"><rect x="302" y="357.5" width="158.5" height="20.3"/></clipPath>
<clipPath id="cr3"><rect x="302" y="383.2" width="158.5" height="20.6"/></clipPath>
<rect x="302.00" y="330.50" width="158.50" height="20.00" fill="#e2e2e2" stroke="none" stroke-width="1"/>
<g clip-path="url(#cr1)">
<rect x="307.00" y="341.00" width="14.00" height="5.00" rx="2.50" fill="#d2d2d2" opacity="1" filter="url(#b3)"/>
<rect x="328.30" y="339.20" width="18.60" height="7.60" rx="3.00" fill="#1c1c1c" opacity="1" filter="url(#b1)"/>
<rect x="351.00" y="340.60" width="15.60" height="6.00" rx="2.00" fill="#a8a8a8" opacity="1" filter="url(#b3)"/>
<rect x="351.30" y="340.85" width="15.00" height="2.30" rx="1.15" fill="#6c6c6c" opacity="1" filter="url(#b1)"/>
<rect x="351.30" y="344.05" width="15.00" height="2.50" rx="1.25" fill="#6c6c6c" opacity="1" filter="url(#b1)"/>
<rect x="369.90" y="340.90" width="15.40" height="6.20" rx="2.00" fill="#7e7e7e" opacity="1" filter="url(#b3)"/>
<rect x="370.20" y="341.15" width="14.80" height="2.50" rx="1.25" fill="#2c2c2c" opacity="1" filter="url(#b1)"/>
<rect x="370.20" y="344.20" width="14.80" height="2.80" rx="1.40" fill="#222" opacity="1" filter="url(#b1)"/>
<rect x="389.50" y="341.40" width="13.00" height="2.00" rx="1.00" fill="#999" opacity="1" filter="url(#b1)"/>
<rect x="389.50" y="344.30" width="13.00" height="2.20" rx="1.10" fill="#aaa" opacity="1" filter="url(#b1)"/>
<rect x="406.10" y="339.50" width="16.00" height="8.40" rx="3.60" fill="#0c0c0c" opacity="1" filter="url(#b1)"/>
<rect x="423.80" y="339.50" width="16.00" height="8.20" rx="3.60" fill="#0c0c0c" opacity="1" filter="url(#b1)"/>
<rect x="441.30" y="339.40" width="17.00" height="8.20" rx="3.60" fill="#0c0c0c" opacity="1" filter="url(#b1)"/>
</g>
<rect x="302.00" y="330.50" width="158.50" height="20.00" fill="none" stroke="#222" stroke-width="1.1"/>
<rect x="302.00" y="357.50" width="158.50" height="20.30" fill="#ececec" stroke="none" stroke-width="1"/>
<g clip-path="url(#cr2)">
<rect x="310.00" y="367.50" width="16.00" height="1.60" rx="0.80" fill="#bdbdbd" opacity="1" filter="url(#b1)"/>
<rect x="331.10" y="366.50" width="17.80" height="4.40" rx="2.20" fill="#050505" opacity="1" filter="url(#b4)"/>
<rect x="351.20" y="367.40" width="14.40" height="2.80" rx="1.40" fill="#666" opacity="1" filter="url(#b1)"/>
<rect x="369.10" y="365.70" width="17.80" height="5.20" rx="2.60" fill="#050505" opacity="1" filter="url(#b4)"/>
<rect x="389.40" y="367.20" width="14.00" height="3.60" rx="1.80" fill="#1a1a1a" opacity="1" filter="url(#b4)"/>
<rect x="405.90" y="365.80" width="16.40" height="5.60" rx="2.80" fill="#050505" opacity="1" filter="url(#b4)"/>
<rect x="422.60" y="365.90" width="18.00" height="5.60" rx="2.80" fill="#050505" opacity="1" filter="url(#b4)"/>
<rect x="440.10" y="365.40" width="18.60" height="6.20" rx="3.10" fill="#050505" opacity="1" filter="url(#b4)"/>
</g>
<rect x="302.00" y="357.50" width="158.50" height="20.30" fill="none" stroke="#222" stroke-width="1.1"/>
<rect x="302.00" y="383.20" width="158.50" height="20.60" fill="#e9e9e9" stroke="none" stroke-width="1"/>
<g clip-path="url(#cr3)">
<rect x="308.60" y="389.75" width="15.00" height="4.90" rx="2.40" fill="#0a0a0a" opacity="1" filter="url(#b4)"/>
<rect x="326.30" y="390.35" width="15.60" height="4.90" rx="2.40" fill="#0a0a0a" opacity="1" filter="url(#b4)"/>
<rect x="345.50" y="391.45" width="15.60" height="4.90" rx="2.40" fill="#0a0a0a" opacity="1" filter="url(#b4)"/>
<rect x="364.80" y="391.45" width="15.40" height="4.90" rx="2.40" fill="#0a0a0a" opacity="1" filter="url(#b4)"/>
<rect x="381.70" y="391.65" width="17.80" height="4.90" rx="2.40" fill="#0a0a0a" opacity="1" filter="url(#b4)"/>
<rect x="403.20" y="391.35" width="15.80" height="4.90" rx="2.40" fill="#0a0a0a" opacity="1" filter="url(#b4)"/>
<rect x="422.50" y="391.45" width="16.00" height="4.90" rx="2.40" fill="#0a0a0a" opacity="1" filter="url(#b4)"/>
<rect x="442.10" y="391.75" width="15.80" height="4.90" rx="2.40" fill="#0a0a0a" opacity="1" filter="url(#b4)"/>
</g>
<rect x="302.00" y="383.20" width="158.50" height="20.60" fill="none" stroke="#222" stroke-width="1.1"/>
</g>
<g id="panelE">
<text x="0.8" y="439.21" font-size="14.63" font-weight="bold" textLength="8.2" lengthAdjust="spacingAndGlyphs" fill="#000">E</text>
<line x1="50.7" y1="462" x2="50.7" y2="561" stroke="#333" stroke-width="1"/>
<line x1="50.7" y1="561" x2="206.9" y2="561" stroke="#333" stroke-width="1.1"/>
<line x1="48.1" y1="561.0" x2="50.7" y2="561.0" stroke="#333" stroke-width="0.8"/>
<text x="41.38" y="563.51" font-size="7.99" textLength="4.12" lengthAdjust="spacingAndGlyphs" style="stroke-width:0.16px">0</text>
<line x1="48.1" y1="541.2" x2="50.7" y2="541.2" stroke="#333" stroke-width="0.8"/>
<text x="34.5" y="543.71" font-size="7.99" textLength="11" lengthAdjust="spacingAndGlyphs" style="stroke-width:0.16px">200</text>
<line x1="48.1" y1="521.4" x2="50.7" y2="521.4" stroke="#333" stroke-width="0.8"/>
<text x="34.5" y="523.91" font-size="7.99" textLength="11" lengthAdjust="spacingAndGlyphs" style="stroke-width:0.16px">400</text>
<line x1="48.1" y1="501.6" x2="50.7" y2="501.6" stroke="#333" stroke-width="0.8"/>
<text x="34.5" y="504.11" font-size="7.99" textLength="11" lengthAdjust="spacingAndGlyphs" style="stroke-width:0.16px">600</text>
<line x1="48.1" y1="481.8" x2="50.7" y2="481.8" stroke="#333" stroke-width="0.8"/>
<text x="34.5" y="484.31" font-size="7.99" textLength="11" lengthAdjust="spacingAndGlyphs" style="stroke-width:0.16px">800</text>
<line x1="48.1" y1="462.0" x2="50.7" y2="462.0" stroke="#333" stroke-width="0.8"/>
<text x="28.1" y="464.51" font-size="7.99" textLength="17.4" lengthAdjust="spacingAndGlyphs" style="stroke-width:0.16px">1,000</text>
<text x="105.7" y="444.09" font-size="8.8" textLength="32.3" lengthAdjust="spacingAndGlyphs" style="stroke-width:0.16px">10% FCS</text>
<polyline points="76.7,550.8 128.5,543.7 180.8,526.3" fill="none" stroke="#111" stroke-width="0.9" stroke-linejoin="round" stroke-dasharray="1.6 1.2"/>
<polyline points="76.7,550.8 128.5,535.4 180.8,510.4" fill="none" stroke="#111" stroke-width="1.15" stroke-linejoin="round"/>
<polyline points="76.7,550.8 128.5,526.3 180.8,483.8" fill="none" stroke="#111" stroke-width="1.15" stroke-linejoin="round"/>
<line x1="128.5" y1="541.1" x2="128.5" y2="546.3000000000001" stroke="#777" stroke-width="0.8"/>
<line x1="126.9" y1="541.1" x2="130.1" y2="541.1" stroke="#777" stroke-width="0.8"/>
<line x1="126.9" y1="546.3000000000001" x2="130.1" y2="546.3000000000001" stroke="#777" stroke-width="0.8"/>
<line x1="180.8" y1="523.4" x2="180.8" y2="529.1999999999999" stroke="#777" stroke-width="0.8"/>
<line x1="179.20000000000002" y1="523.4" x2="182.4" y2="523.4" stroke="#777" stroke-width="0.8"/>
<line x1="179.20000000000002" y1="529.1999999999999" x2="182.4" y2="529.1999999999999" stroke="#777" stroke-width="0.8"/>
<path d="M74.8 548.9L78.60000000000001 552.6999999999999M74.8 552.6999999999999L78.60000000000001 548.9" stroke="#111" stroke-width="1.1" fill="none"/>
<path d="M126.6 541.8000000000001L130.4 545.6M126.6 545.6L130.4 541.8000000000001" stroke="#111" stroke-width="1.1" fill="none"/>
<path d="M178.9 524.4L182.70000000000002 528.1999999999999M178.9 528.1999999999999L182.70000000000002 524.4" stroke="#111" stroke-width="1.1" fill="none"/>
<line x1="128.5" y1="533.8" x2="128.5" y2="537.0" stroke="#777" stroke-width="0.8"/>
<line x1="126.9" y1="533.8" x2="130.1" y2="533.8" stroke="#777" stroke-width="0.8"/>
<line x1="126.9" y1="537.0" x2="130.1" y2="537.0" stroke="#777" stroke-width="0.8"/>
<line x1="180.8" y1="505.79999999999995" x2="180.8" y2="515.0" stroke="#777" stroke-width="0.8"/>
<line x1="179.20000000000002" y1="505.79999999999995" x2="182.4" y2="505.79999999999995" stroke="#777" stroke-width="0.8"/>
<line x1="179.20000000000002" y1="515.0" x2="182.4" y2="515.0" stroke="#777" stroke-width="0.8"/>
<circle cx="76.7" cy="550.8" r="1.8" fill="#fff" stroke="#111" stroke-width="1.1"/>
<circle cx="128.5" cy="535.4" r="1.8" fill="#fff" stroke="#111" stroke-width="1.1"/>
<circle cx="180.8" cy="510.4" r="1.8" fill="#fff" stroke="#111" stroke-width="1.1"/>
<line x1="128.5" y1="523.0999999999999" x2="128.5" y2="529.5" stroke="#777" stroke-width="0.8"/>
<line x1="126.9" y1="523.0999999999999" x2="130.1" y2="523.0999999999999" stroke="#777" stroke-width="0.8"/>
<line x1="126.9" y1="529.5" x2="130.1" y2="529.5" stroke="#777" stroke-width="0.8"/>
<line x1="180.8" y1="478.40000000000003" x2="180.8" y2="489.2" stroke="#777" stroke-width="0.8"/>
<line x1="179.20000000000002" y1="478.40000000000003" x2="182.4" y2="478.40000000000003" stroke="#777" stroke-width="0.8"/>
<line x1="179.20000000000002" y1="489.2" x2="182.4" y2="489.2" stroke="#777" stroke-width="0.8"/>
<rect x="74.40" y="548.50" width="4.60" height="4.60" fill="#000" stroke="none" stroke-width="1"/>
<rect x="126.20" y="524.00" width="4.60" height="4.60" fill="#000" stroke="none" stroke-width="1"/>
<rect x="178.50" y="481.50" width="4.60" height="4.60" fill="#000" stroke="none" stroke-width="1"/>
<line x1="66" y1="463.5" x2="85.2" y2="463.5" stroke="#111" stroke-width="1.15"/>
<circle cx="75.7" cy="463.5" r="1.8" fill="#fff" stroke="#111" stroke-width="1.1"/>
<text x="88.3" y="465.95" font-size="7.31" textLength="42.7" lengthAdjust="spacingAndGlyphs" style="stroke-width:0.16px">RPMI8226-EV</text>
<line x1="66" y1="472.2" x2="85.2" y2="472.2" stroke="#111" stroke-width="0.9" stroke-dasharray="1.6 1.2"/>
<path d="M73.8 470.3L77.60000000000001 474.09999999999997M73.8 474.09999999999997L77.60000000000001 470.3" stroke="#111" stroke-width="1.1" fill="none"/>
<text x="88.3" y="474.65" font-size="7.31" textLength="66" lengthAdjust="spacingAndGlyphs" style="stroke-width:0.16px">RPMI8226-shCXCL12</text>
<line x1="66" y1="480.6" x2="85.2" y2="480.6" stroke="#111" stroke-width="1.15"/>
<rect x="73.40" y="478.30" width="4.60" height="4.60" fill="#000" stroke="none" stroke-width="1"/>
<text x="88.3" y="483.05" font-size="7.31" textLength="56.4" lengthAdjust="spacingAndGlyphs" style="stroke-width:0.16px">RPMI8226-CXCR4</text>
<text x="-25.6" y="506.5" font-size="8.8" textLength="94" lengthAdjust="spacingAndGlyphs" transform="rotate(-90 21.4 506.5)" style="stroke-width:0.12px">Viable cells (% of ctrl)</text>
<text x="75.94" y="575.61" font-size="7.99" textLength="4.12" lengthAdjust="spacingAndGlyphs" style="stroke-width:0.16px">0</text>
<text x="126.84" y="575.61" font-size="7.99" textLength="4.12" lengthAdjust="spacingAndGlyphs" style="stroke-width:0.16px">3</text>
<text x="178.14" y="575.61" font-size="7.99" textLength="4.12" lengthAdjust="spacingAndGlyphs" style="stroke-width:0.16px">5</text>
<text x="94.8" y="592.2" font-size="9.0" textLength="64.2" lengthAdjust="spacingAndGlyphs" style="stroke-width:0.12px">Days of culture</text>
<path d="M191.8 483.6H198.6V505.6H191.8" fill="none" stroke="#333" stroke-width="0.9"/>
<path d="M191.8 514.2H198.6V524.4H191.8" fill="none" stroke="#333" stroke-width="0.9"/>
<text x="203.1" y="502.98" font-size="11.55" font-weight="bold" textLength="10.2" lengthAdjust="spacingAndGlyphs" fill="#000">**</text>
<text x="203.1" y="524.98" font-size="11.55" font-weight="bold" textLength="10.2" lengthAdjust="spacingAndGlyphs" fill="#000">**</text>
<line x1="283.4" y1="462.6" x2="283.4" y2="561" stroke="#333" stroke-width="1"/>
<line x1="283.4" y1="561" x2="441" y2="561" stroke="#333" stroke-width="1.1"/>
<line x1="280.79999999999995" y1="561.0" x2="283.4" y2="561.0" stroke="#333" stroke-width="0.8"/>
<text x="274.08" y="563.51" font-size="7.99" textLength="4.12" lengthAdjust="spacingAndGlyphs" style="stroke-width:0.16px">0</text>
<line x1="280.79999999999995" y1="544.6" x2="283.4" y2="544.6" stroke="#333" stroke-width="0.8"/>
<text x="270.8" y="547.11" font-size="7.99" textLength="7.4" lengthAdjust="spacingAndGlyphs" style="stroke-width:0.16px">50</text>
<line x1="280.79999999999995" y1="528.2" x2="283.4" y2="528.2" stroke="#333" stroke-width="0.8"/>
<text x="267.2" y="530.71" font-size="7.99" textLength="11" lengthAdjust="spacingAndGlyphs" style="stroke-width:0.16px">100</text>
<line x1="280.79999999999995" y1="511.8" x2="283.4" y2="511.8" stroke="#333" stroke-width="0.8"/>
<text x="267.2" y="514.31" font-size="7.99" textLength="11" lengthAdjust="spacingAndGlyphs" style="stroke-width:0.16px">150</text>
<line x1="280.79999999999995" y1="495.4" x2="283.4" y2="495.4" stroke="#333" stroke-width="0.8"/>
<text x="267.2" y="497.91" font-size="7.99" textLength="11" lengthAdjust="spacingAndGlyphs" style="stroke-width:0.16px">200</text>
<line x1="280.79999999999995" y1="479.0" x2="283.4" y2="479.0" stroke="#333" stroke-width="0.8"/>
<text x="267.2" y="481.51" font-size="7.99" textLength="11" lengthAdjust="spacingAndGlyphs" style="stroke-width:0.16px">250</text>
<line x1="280.79999999999995" y1="462.6" x2="283.4" y2="462.6" stroke="#333" stroke-width="0.8"/>
<text x="267.2" y="465.11" font-size="7.99" textLength="11" lengthAdjust="spacingAndGlyphs" style="stroke-width:0.16px">300</text>
<text x="337" y="444.09" font-size="8.8" textLength="27.5" lengthAdjust="spacingAndGlyphs" style="stroke-width:0.16px">1% FCS</text>
<polyline points="310.0,528.4 362.6,543.1 415.0,551.6" fill="none" stroke="#111" stroke-width="0.9" stroke-linejoin="round" stroke-dasharray="1.6 1.2"/>
<polyline points="310.0,528.4 362.6,528.4 415.0,533.6" fill="none" stroke="#111" stroke-width="1.15" stroke-linejoin="round"/>
<polyline points="310.0,528.4 362.6,511.9 415.0,485.2" fill="none" stroke="#111" stroke-width="1.15" stroke-linejoin="round"/>
<line x1="310" y1="522.9" x2="310" y2="533.9" stroke="#333" stroke-width="0.8"/>
<line x1="308.4" y1="522.9" x2="311.6" y2="522.9" stroke="#333" stroke-width="0.8"/>
<line x1="308.4" y1="533.9" x2="311.6" y2="533.9" stroke="#333" stroke-width="0.8"/>
<line x1="362.6" y1="538.3000000000001" x2="362.6" y2="547.9" stroke="#333" stroke-width="0.8"/>
<line x1="361.0" y1="538.3000000000001" x2="364.20000000000005" y2="538.3000000000001" stroke="#333" stroke-width="0.8"/>
<line x1="361.0" y1="547.9" x2="364.20000000000005" y2="547.9" stroke="#333" stroke-width="0.8"/>
<line x1="415" y1="548.0" x2="415" y2="555.2" stroke="#333" stroke-width="0.8"/>
<line x1="413.4" y1="548.0" x2="416.6" y2="548.0" stroke="#333" stroke-width="0.8"/>
<line x1="413.4" y1="555.2" x2="416.6" y2="555.2" stroke="#333" stroke-width="0.8"/>
<path d="M308.1 526.5L311.9 530.3M308.1 530.3L311.9 526.5" stroke="#111" stroke-width="1.1" fill="none"/>
<path d="M360.70000000000005 541.2L364.5 545.0M360.70000000000005 545.0L364.5 541.2" stroke="#111" stroke-width="1.1" fill="none"/>
<path d="M413.1 549.7L416.9 553.5M413.1 553.5L416.9 549.7" stroke="#111" stroke-width="1.1" fill="none"/>
<line x1="310" y1="522.9" x2="310" y2="533.9" stroke="#333" stroke-width="0.8"/>
<line x1="308.4" y1="522.9" x2="311.6" y2="522.9" stroke="#333" stroke-width="0.8"/>
<line x1="308.4" y1="533.9" x2="311.6" y2="533.9" stroke="#333" stroke-width="0.8"/>
<line x1="362.6" y1="524.8" x2="362.6" y2="532.0" stroke="#333" stroke-width="0.8"/>
<line x1="361.0" y1="524.8" x2="364.20000000000005" y2="524.8" stroke="#333" stroke-width="0.8"/>
<line x1="361.0" y1="532.0" x2="364.20000000000005" y2="532.0" stroke="#333" stroke-width="0.8"/>
<line x1="415" y1="529.8000000000001" x2="415" y2="537.4" stroke="#333" stroke-width="0.8"/>
<line x1="413.4" y1="529.8000000000001" x2="416.6" y2="529.8000000000001" stroke="#333" stroke-width="0.8"/>
<line x1="413.4" y1="537.4" x2="416.6" y2="537.4" stroke="#333" stroke-width="0.8"/>
<circle cx="310" cy="528.4" r="1.8" fill="#fff" stroke="#111" stroke-width="1.1"/>
<circle cx="362.6" cy="528.4" r="1.8" fill="#fff" stroke="#111" stroke-width="1.1"/>
<circle cx="415" cy="533.6" r="1.8" fill="#fff" stroke="#111" stroke-width="1.1"/>
<line x1="310" y1="522.9" x2="310" y2="533.9" stroke="#333" stroke-width="0.8"/>
<line x1="308.4" y1="522.9" x2="311.6" y2="522.9" stroke="#333" stroke-width="0.8"/>
<line x1="308.4" y1="533.9" x2="311.6" y2="533.9" stroke="#333" stroke-width="0.8"/>
<line x1="362.6" y1="506.09999999999997" x2="362.6" y2="517.6999999999999" stroke="#333" stroke-width="0.8"/>
<line x1="361.0" y1="506.09999999999997" x2="364.20000000000005" y2="506.09999999999997" stroke="#333" stroke-width="0.8"/>
<line x1="361.0" y1="517.6999999999999" x2="364.20000000000005" y2="517.6999999999999" stroke="#333" stroke-width="0.8"/>
<line x1="415" y1="478.4" x2="415" y2="492.0" stroke="#333" stroke-width="0.8"/>
<line x1="413.4" y1="478.4" x2="416.6" y2="478.4" stroke="#333" stroke-width="0.8"/>
<line x1="413.4" y1="492.0" x2="416.6" y2="492.0" stroke="#333" stroke-width="0.8"/>
<rect x="307.70" y="526.10" width="4.60" height="4.60" fill="#000" stroke="none" stroke-width="1"/>
<rect x="360.30" y="509.60" width="4.60" height="4.60" fill="#000" stroke="none" stroke-width="1"/>
<rect x="412.70" y="482.90" width="4.60" height="4.60" fill="#000" stroke="none" stroke-width="1"/>
<line x1="302.2" y1="463.5" x2="321.4" y2="463.5" stroke="#111" stroke-width="1.15"/>
<circle cx="311.9" cy="463.5" r="1.8" fill="#fff" stroke="#111" stroke-width="1.1"/>
<text x="324" y="465.95" font-size="7.31" textLength="42.7" lengthAdjust="spacingAndGlyphs" style="stroke-width:0.16px">RPMI8226-EV</text>
<line x1="302.2" y1="472.2" x2="321.4" y2="472.2" stroke="#111" stroke-width="0.9" stroke-dasharray="1.6 1.2"/>
<path d="M310.0 470.3L313.79999999999995 474.09999999999997M310.0 474.09999999999997L313.79999999999995 470.3" stroke="#111" stroke-width="1.1" fill="none"/>
<text x="324" y="474.65" font-size="7.31" textLength="66" lengthAdjust="spacingAndGlyphs" style="stroke-width:0.16px">RPMI8226-shCXCL12</text>
<line x1="302.2" y1="480.6" x2="321.4" y2="480.6" stroke="#111" stroke-width="1.15"/>
<rect x="309.60" y="478.30" width="4.60" height="4.60" fill="#000" stroke="none" stroke-width="1"/>
<text x="324" y="483.05" font-size="7.31" textLength="56.4" lengthAdjust="spacingAndGlyphs" style="stroke-width:0.16px">RPMI8226-CXCR4</text>
<text x="207.8" y="506.8" font-size="8.8" textLength="94" lengthAdjust="spacingAndGlyphs" transform="rotate(-90 254.8 506.8)" style="stroke-width:0.12px">Viable cells (% of ctrl)</text>
<text x="305.44" y="577.31" font-size="7.99" textLength="4.12" lengthAdjust="spacingAndGlyphs" style="stroke-width:0.16px">0</text>
<text x="356.64" y="577.31" font-size="7.99" textLength="4.12" lengthAdjust="spacingAndGlyphs" style="stroke-width:0.16px">3</text>
<text x="407.74" y="577.31" font-size="7.99" textLength="4.12" lengthAdjust="spacingAndGlyphs" style="stroke-width:0.16px">5</text>
<text x="324" y="594.4" font-size="9.0" textLength="65" lengthAdjust="spacingAndGlyphs" style="stroke-width:0.12px">Days of culture</text>
<path d="M420.8 498.8H430.4V520.5H420.8" fill="none" stroke="#333" stroke-width="0.9"/>
<path d="M422.2 535.9H430.4V547.2H422.2" fill="none" stroke="#333" stroke-width="0.9"/>
<text x="434.7" y="516.78" font-size="11.55" font-weight="bold" textLength="10.2" lengthAdjust="spacingAndGlyphs" fill="#000">**</text>
<text x="434.7" y="545.78" font-size="11.55" font-weight="bold" textLength="10.2" lengthAdjust="spacingAndGlyphs" fill="#000">**</text>
</g>
</g>
</svg>
</body></html>
